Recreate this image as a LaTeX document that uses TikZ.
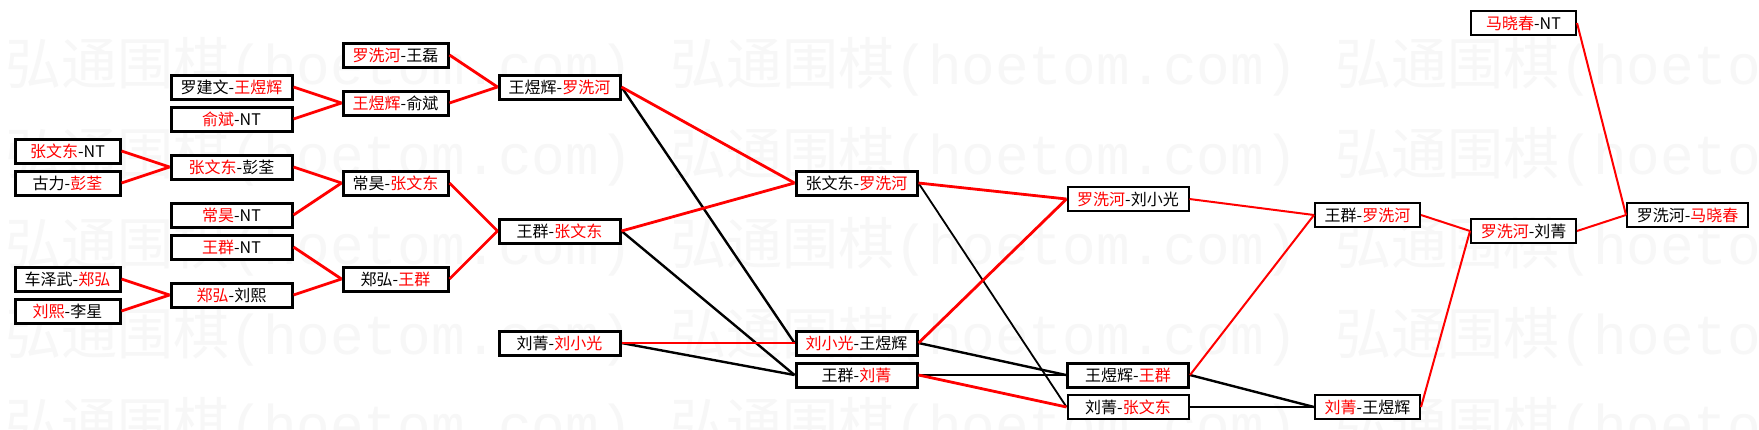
\documentclass[tikz,border=0pt]{standalone}
\usepackage{fontspec}
\setmainfont{Noto Sans CJK SC}
\newfontfamily\wmlatin{Liberation Mono}
\newfontfamily\wmcjk{Noto Sans CJK SC Light}
\newcommand{\redname}[1]{\textcolor{red}{#1}}
\begin{document}
\begin{tikzpicture}[x=0.5pt,y=-0.5pt,
  box/.style={draw=black,fill=white,line width=1.5pt,minimum height=12pt,inner sep=0pt,
    font=\fontsize{8pt}{9pt}\selectfont},
  thinbox/.style={box,line width=1pt},
  nar/.style={minimum width=52.5pt},
  wid/.style={minimum width=60.5pt},
  wm/.style={text=black!3,inner sep=0pt,anchor=west,font=\fontsize{28pt}{30pt}\selectfont},
  wl/.style={draw=red,line width=1.4pt},
  ll/.style={draw=black,line width=1.2pt},
  wt/.style={draw=red,line width=1pt},
  lt/.style={draw=black,line width=0.9pt}]
\fill[white] (0,0) rectangle (1759,429);
\useasboundingbox (0,0) rectangle (1759,429);
% watermark
\begin{scope}
\clip (0,0) rectangle (1759,429);
\foreach \yy in {67,157,247,337,427}
  \foreach \xx in {5,670,1335}
    \node[wm] (wm-\xx-\yy) at (\xx,\yy) {弘通围棋{\wmlatin(hoetom.com)}};
\end{scope}
% column 0
\node[box,nar] (n1) at (67.5,151) {\redname{张文东}-NT};
\node[box,nar] (n2) at (67.5,183) {古力-\redname{彭荃}};
\node[box,nar] (n3) at (67.5,279) {车泽武-\redname{郑弘}};
\node[box,nar] (n4) at (67.5,311) {\redname{刘熙}-李星};
% column 1
\node[box,wid] (m1) at (231.5,87) {罗建文-\redname{王煜辉}};
\node[box,wid] (m2) at (231.5,119) {\redname{俞斌}-NT};
\node[box,wid] (m3) at (231.5,167) {\redname{张文东}-彭荃};
\node[box,wid] (m4) at (231.5,215) {\redname{常昊}-NT};
\node[box,wid] (m5) at (231.5,247) {\redname{王群}-NT};
\node[box,wid] (m6) at (231.5,295) {\redname{郑弘}-刘熙};
% column 2
\node[box,nar] (p1) at (395.5,55) {\redname{罗洗河}-王磊};
\node[box,nar] (p2) at (395.5,103) {\redname{王煜辉}-俞斌};
\node[box,nar] (p3) at (395.5,183) {常昊-\redname{张文东}};
\node[box,nar] (p4) at (395.5,279) {郑弘-\redname{王群}};
% column 3
\node[box,wid] (q1) at (559.5,87) {王煜辉-\redname{罗洗河}};
\node[box,wid] (q2) at (559.5,231) {王群-\redname{张文东}};
\node[box,wid] (q3) at (559.5,343) {刘菁-\redname{刘小光}};
% column 4
\node[box,wid] (r1) at (856.5,183) {张文东-\redname{罗洗河}};
\node[box,wid] (r2) at (856.5,343) {\redname{刘小光}-王煜辉};
\node[box,wid] (r3) at (856.5,375) {王群-\redname{刘菁}};
% column 5
\node[thinbox,wid] (s1) at (1128,199) {\redname{罗洗河}-刘小光};
\node[box,wid] (s2) at (1128,375) {王煜辉-\redname{王群}};
\node[thinbox,wid] (s3) at (1128,407) {刘菁-\redname{张文东}};
% column 6
\node[thinbox,nar] (t1) at (1367.5,215) {王群-\redname{罗洗河}};
\node[thinbox,nar] (t2) at (1367.5,407) {\redname{刘菁}-王煜辉};
% column 7
\node[thinbox,nar] (u0) at (1523.5,23) {\redname{马晓春}-NT};
\node[thinbox,nar] (u1) at (1523.5,231) {\redname{罗洗河}-刘菁};
% column 8
\node[thinbox,wid] (v1) at (1687.5,215) {罗洗河-\redname{马晓春}};
% connectors
\draw[wl] (m1.east) -- (p2.west);
\draw[wl] (m2.east) -- (p2.west);
\draw[wl] (p1.east) -- (q1.west);
\draw[wl] (p2.east) -- (q1.west);
\draw[wl] (n1.east) -- (m3.west);
\draw[wl] (n2.east) -- (m3.west);
\draw[wl] (m3.east) -- (p3.west);
\draw[wl] (m4.east) -- (p3.west);
\draw[wl] (p3.east) -- (q2.west);
\draw[wl] (p4.east) -- (q2.west);
\draw[wl] (m5.east) -- (p4.west);
\draw[wl] (m6.east) -- (p4.west);
\draw[wl] (n3.east) -- (m6.west);
\draw[wl] (n4.east) -- (m6.west);
\draw[ll] (q1.east) -- (r2.west);
\draw[ll] (q2.east) -- (r3.west);
\draw[ll] (q3.east) -- (r3.west);
\draw[wl] (q1.east) -- (r1.west);
\draw[wl] (q2.east) -- (r1.west);
\draw[wl] (q3.east) -- (r2.west);
\draw[ll] (r2.east) -- (s2.west);
\draw[ll] (r3.east) -- (s2.west);
\draw[lt] (r1.east) -- (s3.west);
\draw[wl] (r1.east) -- (s1.west);
\draw[wl] (r2.east) -- (s1.west);
\draw[wl] (r3.east) -- (s3.west);
\draw[ll] (s2.east) -- (t2.west);
\draw[lt] (s3.east) -- (t2.west);
\draw[wt] (s1.east) -- (t1.west);
\draw[wt] (s2.east) -- (t1.west);
\draw[wt] (t1.east) -- (u1.west);
\draw[wt] (t2.east) -- (u1.west);
\draw[wt] (u0.east) -- (v1.west);
\draw[wt] (u1.east) -- (v1.west);
\end{tikzpicture}
\end{document}
